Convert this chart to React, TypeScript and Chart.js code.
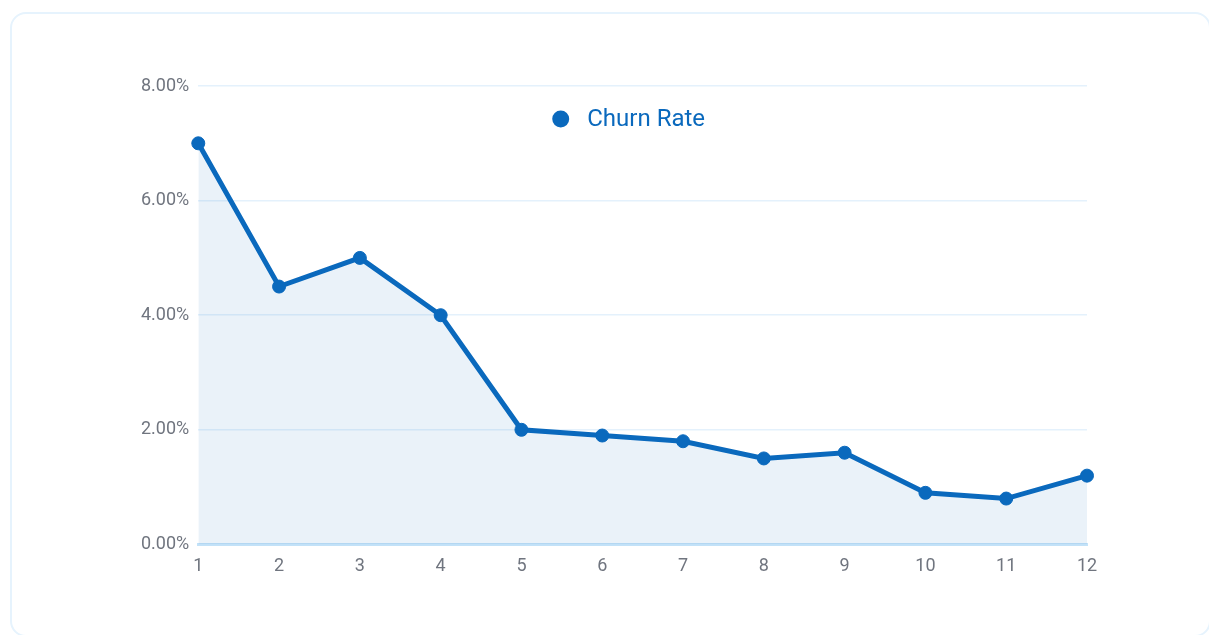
import React, { useEffect, useRef } from "react";
import { Chart, registerables } from "chart.js";

Chart.register(...registerables);

const months = ["1", "2", "3", "4", "5", "6", "7", "8", "9", "10", "11", "12"];
const churnRate = [7.0, 4.5, 5.0, 4.0, 2.0, 1.9, 1.8, 1.5, 1.6, 0.9, 0.8, 1.2];
const seriesLabel = "Churn Rate";
const yTicks = [0, 2, 4, 6, 8];

const BLUE = "#0a69bd";
const FONT = "Roboto, 'Noto Sans', sans-serif";

const legendInArea = {
  id: "legendInArea",
  afterDraw(chart: any) {
    const { ctx, chartArea } = chart;
    ctx.save();
    ctx.font = `24px ${FONT}`;
    const tw = ctx.measureText(seriesLabel).width;
    const r = 8.5;
    const gap = 18;
    const total = 2 * r + gap + tw;
    const cx = (chartArea.left + chartArea.right) / 2 - 14;
    const x0 = cx - total / 2;
    const y = chartArea.top + 33;
    ctx.fillStyle = BLUE;
    ctx.beginPath();
    ctx.arc(x0 + r, y, r, 0, Math.PI * 2);
    ctx.fill();
    ctx.textBaseline = "middle";
    ctx.textAlign = "left";
    ctx.fillText(seriesLabel, x0 + 2 * r + gap, y + 1);
    ctx.restore();
  },
};

export default function App() {
  const ref = useRef<HTMLCanvasElement>(null);
  useEffect(() => {
    document.documentElement.style.overflow = "hidden";
    document.body.style.overflow = "hidden";
    const chart = new Chart(ref.current as HTMLCanvasElement, {
      type: "line",
      data: {
        labels: months,
        datasets: [
          {
            label: seriesLabel,
            data: churnRate,
            borderColor: BLUE,
            backgroundColor: "rgba(10,105,189,0.085)",
            fill: "origin",
            borderWidth: 5,
            pointRadius: 6.5,
            pointBackgroundColor: BLUE,
            pointBorderColor: BLUE,
            pointBorderWidth: 1,
            tension: 0,
          },
        ],
      },
      options: {
        animation: false,
        responsive: false,
        layout: { padding: { left: 132, right: 122, top: 86, bottom: 47 } },
        plugins: { legend: { display: false }, tooltip: { enabled: false } },
        scales: {
          x: {
            grid: { display: false, drawTicks: false },
            border: { display: true, color: "#c3e2f8", width: 3 },
            ticks: { color: "#70757f", font: { family: FONT, size: 18 }, padding: 11 },
          },
          y: {
            min: 0,
            max: 8,
            afterBuildTicks: (axis: any) => {
              axis.ticks = yTicks.map((v) => ({ value: v }));
            },
            grid: { color: "#e4f1fc", lineWidth: 1.5, drawTicks: false },
            border: { display: false },
            ticks: {
              color: "#70757f",
              font: { family: FONT, size: 18 },
              padding: 9,
              callback: (v: any) => Number(v).toFixed(2) + "%",
            },
          },
        },
      },
      plugins: [legendInArea],
    });
    return () => chart.destroy();
  }, []);
  return (
    <div style={{ position: "fixed", left: 0, top: 0, width: 1209, height: 635, background: "#fff" }}>
      <div
        style={{
          position: "absolute",
          left: 10,
          top: 12,
          width: 1201,
          height: 625,
          boxSizing: "border-box",
          border: "2px solid #e6f3fd",
          borderRadius: 16,
        }}
      />
      <canvas ref={ref} width={1209} height={635} style={{ position: "absolute", left: 0, top: 0 }} />
    </div>
  );
}
